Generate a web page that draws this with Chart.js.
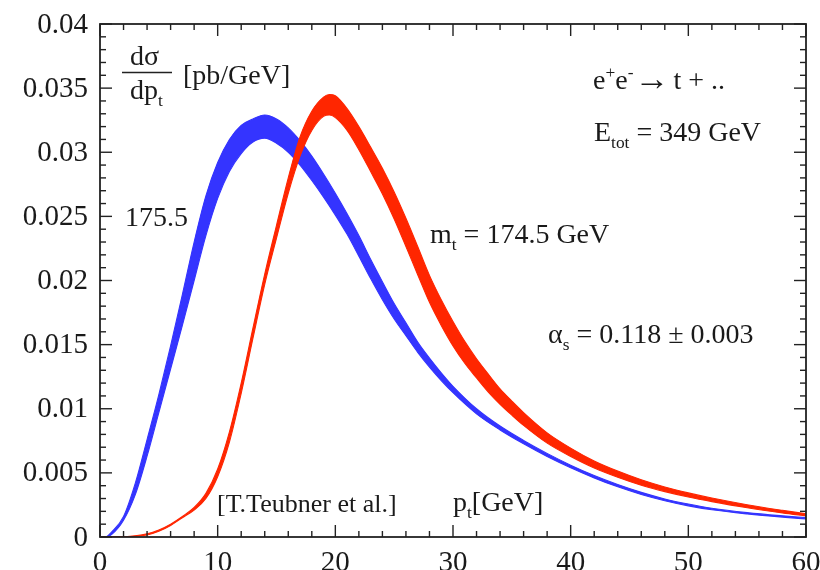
<!DOCTYPE html>
<html><head><meta charset="utf-8">
<script src="https://cdn.jsdelivr.net/npm/chart.js@4/dist/chart.umd.min.js"></script>
<style>html,body{margin:0;padding:0;background:#fff;overflow:hidden}</style>
</head><body>
<canvas id="c" width="820" height="570"></canvas>
<script>
// ---- data ----
const blueX = [0,0.5,1,2,3,4,5,6,7,8,9,10,11,12,13,14,15,16,17,18,19,20,21,22,23,24,25,26,27,28,29,30,32,34,36,38,40,42,44,46,48,50,52,55,58,60];
const blueUpper = [0,0.00002,0.0004,0.0016,0.0042,0.0076,0.0111,0.0149,0.0189,0.0230,0.0266,0.0292,0.0310,0.0321,0.0326,0.0329,0.0326,0.0319,0.0309,0.0297,0.0283,0.0268,0.0252,0.0235,0.02165,0.0199,0.0182,0.0167,0.0152,0.01395,0.0128,0.01175,0.0100,0.00865,0.00753,0.00652,0.0056,0.00479,0.00409,0.00348,0.00297,0.00257,0.00224,0.0019,0.00165,0.00151];
const blueLower = [0,0,0.0002,0.0013,0.0033,0.0063,0.0097,0.0131,0.0165,0.0200,0.0235,0.0264,0.0285,0.0299,0.0308,0.0311,0.0307,0.0300,0.0290,0.0278,0.0265,0.0251,0.0236,0.0219,0.02015,0.0185,0.0170,0.0157,0.0144,0.01325,0.0122,0.01125,0.0096,0.00835,0.00727,0.00628,0.0054,0.00461,0.00391,0.00332,0.00283,0.00243,0.00212,0.0018,0.00155,0.00141];

const redX = [0,1,2,3,4,5,6,7,8,9,10,11,12,13,14,15,16,17,18,19,19.5,20,21,22,23,24,25,26,27,28,29,30,31,32,33,34,35,36,38,40,42,44,46,48,50,52,55,58,60];
const redUpper = [0,0,0.00003,0.0001,0.00025,0.00055,0.001,0.0016,0.0023,0.0034,0.0053,0.0082,0.0120,0.0163,0.0205,0.0243,0.0280,0.0312,0.0332,0.0343,0.0345,0.0344,0.0334,0.0320,0.0304,0.02875,0.0269,0.02485,0.02265,0.0204,0.0185,0.0168,0.01525,0.0139,0.0127,0.01155,0.0106,0.0097,0.00812,0.00693,0.00593,0.00514,0.00446,0.0039,0.00344,0.00304,0.00252,0.00208,0.00181];
const redLower = [0,0,0.00001,0.00006,0.00016,0.00045,0.0009,0.0015,0.0021,0.0030,0.0047,0.0074,0.0112,0.0155,0.0197,0.0233,0.0268,0.0297,0.0317,0.0328,0.0329,0.0327,0.0317,0.0302,0.0285,0.02675,0.0248,0.02265,0.02045,0.0183,0.0165,0.0149,0.01355,0.0124,0.0113,0.01035,0.0095,0.0087,0.00732,0.00628,0.00538,0.00466,0.00404,0.00354,0.00312,0.00276,0.00228,0.00188,0.00165];

const xTicks = [0,10,20,30,40,50,60];
const xTickLabels = ['0','10','20','30','40','50','60'];
const yTicks = [0,0.005,0.01,0.015,0.02,0.025,0.03,0.035,0.04];
const yTickLabels = ['0','0.005','0.01','0.015','0.02','0.025','0.03','0.035','0.04'];

const BLUE = '#3434ff';
const RED = '#ff2600';
const SERIF = '"Liberation Serif","Times New Roman",serif';

const pts = (xs, ys) => xs.map((v, i) => ({x: v, y: ys[i]}));

function rich(ctx, x, y, parts, size) {
  let cx = x;
  for (const p of parts) {
    let s = size * (p.scale || 1), dy = 0;
    if (p.sub) { s = size * 0.62; dy = size * 0.24; }
    if (p.sup) { s = size * 0.62; dy = -size * 0.38; }
    ctx.font = s + 'px ' + SERIF;
    ctx.fillText(p.t, cx, y + dy + (p.dy || 0));
    cx += ctx.measureText(p.t).width + (p.gap || 0);
  }
}

const deco = {
  id: 'deco',
  afterDraw(chart) {
    const {ctx, chartArea: a, scales: {x, y}} = chart;
    ctx.save();
    ctx.strokeStyle = '#222';
    ctx.fillStyle = '#222';
    ctx.lineWidth = 1.4;
    const seg = (x1, y1, x2, y2) => { ctx.beginPath(); ctx.moveTo(x1, y1); ctx.lineTo(x2, y2); ctx.stroke(); };
    for (let k = 0; k <= 30; k++) {
      const v = k * 2, px = x.getPixelForValue(v), len = (v % 10 === 0) ? 12 : 6;
      seg(px, a.bottom, px, a.bottom - len);
      seg(px, a.top, px, a.top + len);
    }
    for (let k = 0; k <= 40; k++) {
      const py = y.getPixelForValue(k / 1000), len = (k % 5 === 0) ? 12 : 6;
      seg(a.left, py, a.left + len, py);
      seg(a.right, py, a.right - len, py);
    }
    ctx.lineWidth = 1.8;
    ctx.strokeRect(a.left, a.top, a.right - a.left, a.bottom - a.top);

    // tick labels
    ctx.fillStyle = '#1a1a1a';
    ctx.font = '29px ' + SERIF;
    ctx.textAlign = 'right';
    ctx.textBaseline = 'middle';
    yTicks.forEach((v, i) => ctx.fillText(yTickLabels[i], a.left - 12, y.getPixelForValue(v) + 1));
    ctx.textAlign = 'center';
    ctx.textBaseline = 'alphabetic';
    xTicks.forEach((v, i) => ctx.fillText(xTickLabels[i], x.getPixelForValue(v), 571));

    // annotations
    ctx.textAlign = 'left';
    const F = 28;
    rich(ctx, 130, 65, [{t: 'dσ'}], F);
    ctx.lineWidth = 1.3;
    seg(122, 72.5, 172, 72.5);
    rich(ctx, 130, 99, [{t: 'dp'}, {t: 't', sub: true}], F);
    rich(ctx, 183, 84, [{t: '[pb/GeV]'}], F);
    rich(ctx, 125, 226, [{t: '175.5'}], F);
    rich(ctx, 593, 89, [{t: 'e'}, {t: '+', sup: true}, {t: 'e'}, {t: '-', sup: true, gap: 1}, {t: '→', scale: 1.25, dy: 1, gap: 4}, {t: 't + ..'}], F);
    rich(ctx, 594, 141, [{t: 'E'}, {t: 'tot', sub: true}, {t: ' = 349 GeV'}], F);
    rich(ctx, 430, 243, [{t: 'm'}, {t: 't', sub: true}, {t: ' = 174.5 GeV'}], F);
    rich(ctx, 548, 343, [{t: 'α'}, {t: 's', sub: true}, {t: ' = 0.118 ± 0.003'}], F);
    rich(ctx, 217, 512, [{t: '[T.Teubner et al.]'}], 26);
    rich(ctx, 453, 511, [{t: 'p'}, {t: 't', sub: true}, {t: '[GeV]'}], F);
    ctx.restore();
  }
};

const ds = (data, color, fill) => ({
  data, borderColor: color, backgroundColor: color, borderWidth: 1.1,
  pointRadius: 0, fill, cubicInterpolationMode: 'monotone'
});

new Chart(document.getElementById('c'), {
  type: 'line',
  data: {
    datasets: [
      ds(pts(redX, redUpper), RED, false),
      ds(pts(redX, redLower), RED, '-1'),
      ds(pts(blueX, blueUpper), BLUE, false),
      ds(pts(blueX, blueLower), BLUE, '-1')
    ]
  },
  options: {
    responsive: false,
    devicePixelRatio: 1,
    animation: false,
    layout: {padding: {left: 100, right: 14, top: 24, bottom: 33}},
    plugins: {legend: {display: false}, tooltip: {enabled: false}},
    scales: {
      x: {type: 'linear', min: 0, max: 60, display: false},
      y: {type: 'linear', min: 0, max: 0.04, display: false}
    }
  },
  plugins: [deco]
});
</script>
</body></html>
